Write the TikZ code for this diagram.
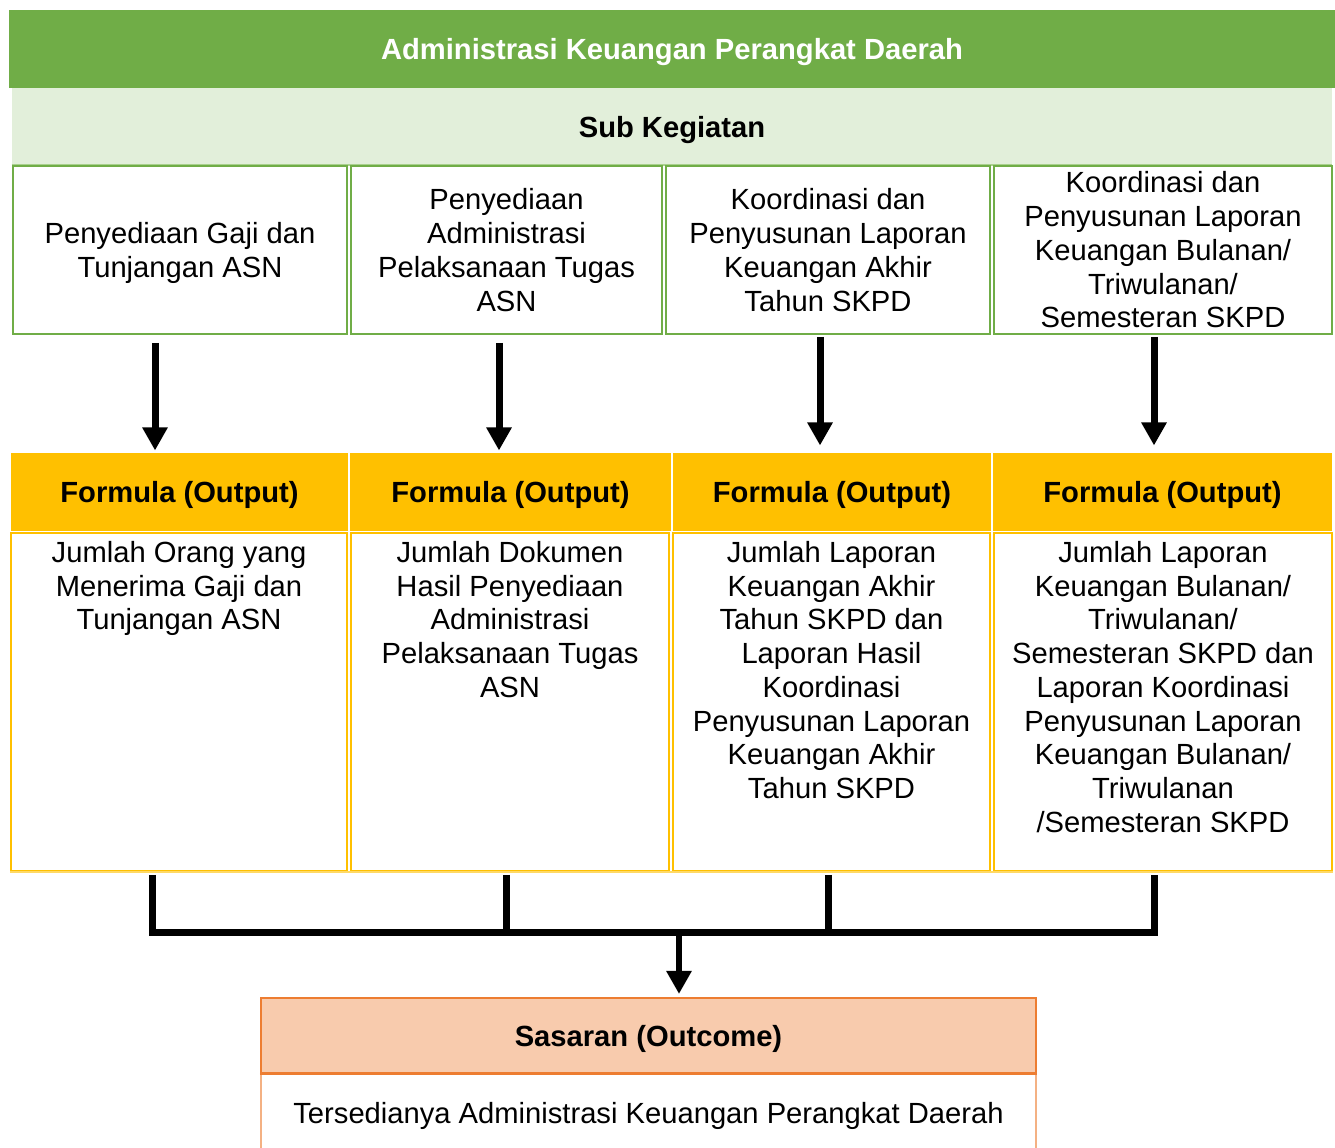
\documentclass[tikz,border=0pt]{standalone}
\usepackage{fontspec}
\setmainfont{Liberation Sans}
\usepackage{tikz}
\usepackage{xcolor}
\usetikzlibrary{arrows.meta,positioning,calc}
\definecolor{kgreen}{HTML}{70AD47}
\definecolor{kgreenlt}{HTML}{E2EFDA}
\definecolor{kgreenmd}{HTML}{A9D08E}
\definecolor{kyellow}{HTML}{FFC000}
\definecolor{kyellowlt}{HTML}{FFD966}
\definecolor{korange}{HTML}{ED7D31}
\definecolor{kpeach}{HTML}{F8CBAD}
\definecolor{korangelt}{HTML}{F4B183}
\newcommand{\kfont}{\fontsize{16.6}{19.2}\selectfont}

\begin{document}
\begin{tikzpicture}[
  band/.style={minimum height=1.56cm,align=center,font=\kfont\bfseries,inner sep=0pt,text depth=0pt},
  subbox/.style={draw=kgreen,line width=1pt,minimum height=3.36cm,align=center,font=\kfont,inner sep=0pt},
  outbox/.style={fill=kyellow,draw=white,line width=0.6pt,minimum height=1.6cm,align=center,font=\kfont\bfseries,inner sep=0pt,text depth=0pt},
  resbox/.style={draw=kyellow,line width=1pt,minimum height=6.76cm,inner sep=0pt},
  txt/.style={align=center,font=\kfont,inner sep=0pt},
  arr/.style={-{Triangle[length=0.46cm,width=0.48cm]},line width=0.14cm,black},
  conn/.style={line width=0.14cm,black}
]
\useasboundingbox (0,0) rectangle (26.7,-22.94);

% Header
\node[band,fill=kgreen,text=white,minimum width=26.52cm] (title) at (13.44,-0.98) {Administrasi Keuangan Perangkat Daerah};
\node[band,fill=kgreenlt,minimum width=26.4cm,minimum height=1.54cm] (sub) at (13.44,-2.53) {Sub Kegiatan};
\draw[kgreenmd,line width=1pt] (sub.south west) -- (sub.south east);

% Sub kegiatan
\node[subbox,minimum width=6.68cm,text depth=0pt] (sub1) at (3.6,-5.0) {Penyediaan Gaji dan\\Tunjangan ASN};
\node[subbox,minimum width=6.22cm] (sub2) at (10.13,-5.0) {Penyediaan\\Administrasi\\Pelaksanaan Tugas\\ASN};
\node[subbox,minimum width=6.48cm] (sub3) at (16.56,-5.0) {Koordinasi dan\\Penyusunan Laporan\\Keuangan Akhir\\Tahun SKPD};
\node[subbox,minimum width=6.76cm] (sub4) at (23.26,-5.0) {Koordinasi dan\\Penyusunan Laporan\\Keuangan Bulanan/\\Triwulanan/\\Semesteran SKPD};

% Formula (output)
\node[outbox,minimum width=6.78cm] (out1) at (3.59,-9.84) {Formula (Output)};
\node[outbox,minimum width=6.46cm] (out2) at (10.21,-9.84) {Formula (Output)};
\node[outbox,minimum width=6.4cm] (out3) at (16.64,-9.84) {Formula (Output)};
\node[outbox,minimum width=6.82cm] (out4) at (23.25,-9.84) {Formula (Output)};

\node[resbox,minimum width=6.72cm] (res1) at (3.58,-14.04) {};
\node[resbox,minimum width=6.36cm] (res2) at (10.2,-14.04) {};
\node[resbox,minimum width=6.34cm] (res3) at (16.63,-14.04) {};
\node[resbox,minimum width=6.76cm] (res4) at (23.26,-14.04) {};
\draw[kyellowlt,line width=1pt] (res1.south west) -- (res4.south east);
\node[txt,below=5pt of res1.north] (res1t) {Jumlah Orang yang\\Menerima Gaji dan\\Tunjangan ASN};
\node[txt,below=5pt of res2.north] (res2t) {Jumlah Dokumen\\Hasil Penyediaan\\Administrasi\\Pelaksanaan Tugas\\ASN};
\node[txt,below=5pt of res3.north] (res3t) {Jumlah Laporan\\Keuangan Akhir\\Tahun SKPD dan\\Laporan Hasil\\Koordinasi\\Penyusunan Laporan\\Keuangan Akhir\\Tahun SKPD};
\node[txt,below=5pt of res4.north] (res4t) {Jumlah Laporan\\Keuangan Bulanan/\\Triwulanan/\\Semesteran SKPD dan\\Laporan Koordinasi\\Penyusunan Laporan\\Keuangan Bulanan/\\Triwulanan\\/Semesteran SKPD};

% Sasaran (outcome)
\node[band,fill=kpeach,draw=korange,line width=1.2pt,minimum width=15.5cm,minimum height=1.5cm] (goal) at (12.97,-20.71) {Sasaran (Outcome)};
\node[txt,draw=korangelt,line width=1pt,minimum width=15.5cm,minimum height=1.56cm,text depth=0pt] (goalt) at (12.97,-22.26) {Tersedianya Administrasi Keuangan Perangkat Daerah};
\draw[korange,line width=1.2pt] (goal.south west) -- (goal.south east);

% connectors
\coordinate (a1) at (3.1,0);
\coordinate (a2) at (9.98,0);
\coordinate (a3) at (16.4,0);
\coordinate (a4) at (23.08,0);
\coordinate (c1) at (3.04,0);
\coordinate (c2) at (10.12,0);
\coordinate (c3) at (16.56,0);
\coordinate (c4) at (23.08,0);
\coordinate (jn) at (13.58,-18.64);

\draw[arr,shorten <=0.16cm,shorten >=0.02cm] (sub1.south -| a1) -- (out1.north -| a1);
\draw[arr,shorten <=0.16cm,shorten >=0.02cm] (sub2.south -| a2) -- (out2.north -| a2);
\draw[arr,shorten <=0.04cm,shorten >=0.12cm] (sub3.south -| a3) -- (out3.north -| a3);
\draw[arr,shorten <=0.04cm,shorten >=0.12cm] (sub4.south -| a4) -- (out4.north -| a4);

\draw[conn,shorten <=0.06cm,shorten >=0.06cm] (res1.south -| c1) |- (jn) -| (res4.south -| c4);
\draw[conn,shorten <=0.06cm] (res2.south -| c2) -- (c2 |- jn);
\draw[conn,shorten <=0.06cm] (res3.south -| c3) -- (c3 |- jn);
\draw[arr,line width=0.13cm,shorten >=0.06cm] (jn) -- (goal.north -| jn);
\end{tikzpicture}
\end{document}
